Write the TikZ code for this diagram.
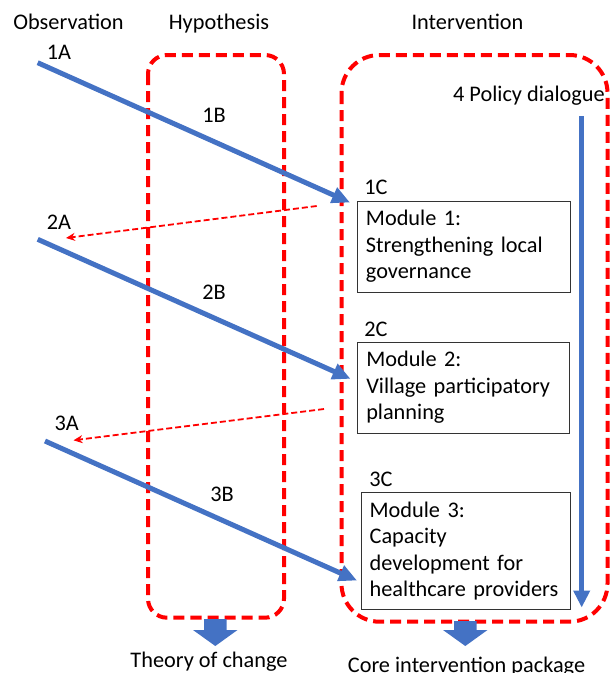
\documentclass[tikz,border=0pt]{standalone}
\usepackage{fontspec}
\setmainfont{Carlito}
\usetikzlibrary{arrows.meta}
\definecolor{obl}{RGB}{68,114,196}
\definecolor{ored}{RGB}{255,0,0}
\begin{document}
\begin{tikzpicture}[x=1pt,y=-1pt,
  every node/.style={font=\fontsize{22.3}{26.5}\selectfont, inner sep=0pt},
  lbl/.style={anchor=base},
  groupbox/.style={draw=ored, line width=4pt, dash pattern=on 11pt off 6pt},
  modbox/.style={draw=black!80, line width=0.9pt, anchor=north west, align=left, inner xsep=8.5pt, inner ysep=0pt},
  bluearrow/.style={draw=obl, line width=5pt, -{Triangle[length=18pt,width=16pt]}},
  feedback/.style={draw=ored, line width=1.8pt, dash pattern=on 6pt off 3pt, -{Stealth[length=9pt,width=8pt]}},
  blockarrow/.style={fill=obl}
]
\useasboundingbox (0,0) rectangle (611,673);

% headers
\node[lbl] (hobs) at (68.5,29) {Observation};
\node[lbl] (hhyp) at (219,29) {Hypothesis};
\node[lbl] (hint) at (467.5,29) {Intervention};

% group boxes
\draw[groupbox, rounded corners=19pt] (148,55) rectangle (284,617.7);
\draw[groupbox, rounded corners=38pt] (341.5,55) rectangle (607.5,621.7);

% module boxes
\node[modbox, minimum width=213pt, minimum height=91pt, text width=196pt] (m1) at (357,200.7)
  {Module 1:\\Strengthening local\\governance};
\node[modbox, minimum width=212pt, minimum height=91pt, text width=195pt] (m2) at (357.3,341.7)
  {Module 2:\\Village participatory\\planning};
\node[modbox, minimum width=209.3pt, minimum height=117.6pt, text width=192.3pt] (m3) at (360.7,491.7)
  {Module 3:\\Capacity\\development for\\healthcare providers};

% labels
\node[lbl] (l1a) at (59,59.5) {1A};
\node[lbl] (l1b) at (214,122) {1B};
\node[lbl] (l1c) at (376,194) {1C};
\node[lbl] (l2a) at (59,229) {2A};
\node[lbl] (l2b) at (214,299) {2B};
\node[lbl] (l2c) at (376,336.5) {2C};
\node[lbl] (l3a) at (66.7,430) {3A};
\node[lbl] (l3b) at (222,501) {3B};
\node[lbl] (l3c) at (381,486) {3C};
\node[anchor=base east] (pol) at (605,101) {4 Policy dialogue};

% coordinates
\coordinate (s1) at (37.7,62.7);
\coordinate (e1) at (350,202.5);
\coordinate (s2) at (37.7,239.3);
\coordinate (e2) at (350.5,378.8);
\coordinate (s3) at (45,441);
\coordinate (e3) at (357,580.5);
\coordinate (f1s) at (316.7,206);
\coordinate (f1e) at (66,238);
\coordinate (f2s) at (324,409);
\coordinate (f2e) at (73.5,440.3);
\coordinate (ps) at (581.7,116);
\coordinate (pe) at (581.7,607.5);

% blue arrows
\draw[bluearrow] (s1) -- (e1);
\draw[bluearrow] (s2) -- (e2);
\draw[bluearrow] (s3) -- (e3);
\draw[draw=obl, line width=5.5pt, -{Triangle[length=17pt,width=16pt]}] (ps) -- (pe);

% feedback arrows
\draw[feedback] (f1s) -- (f1e);
\draw[feedback] (f2s) -- (f2e);

% block arrows
\fill[blockarrow] (204,619) -- (226.7,619) -- (226.7,630) -- (237.5,630) -- (215.3,646) -- (193,630) -- (204,630) -- cycle;
\fill[blockarrow] (454,621) -- (476.7,621) -- (476.7,630) -- (487.5,630) -- (465.3,646) -- (443,630) -- (454,630) -- cycle;

% bottom texts
\node[lbl] (toc) at (209,667) {Theory of change};
\node[lbl] (cip) at (466.5,672) {Core intervention package};
\end{tikzpicture}
\end{document}
